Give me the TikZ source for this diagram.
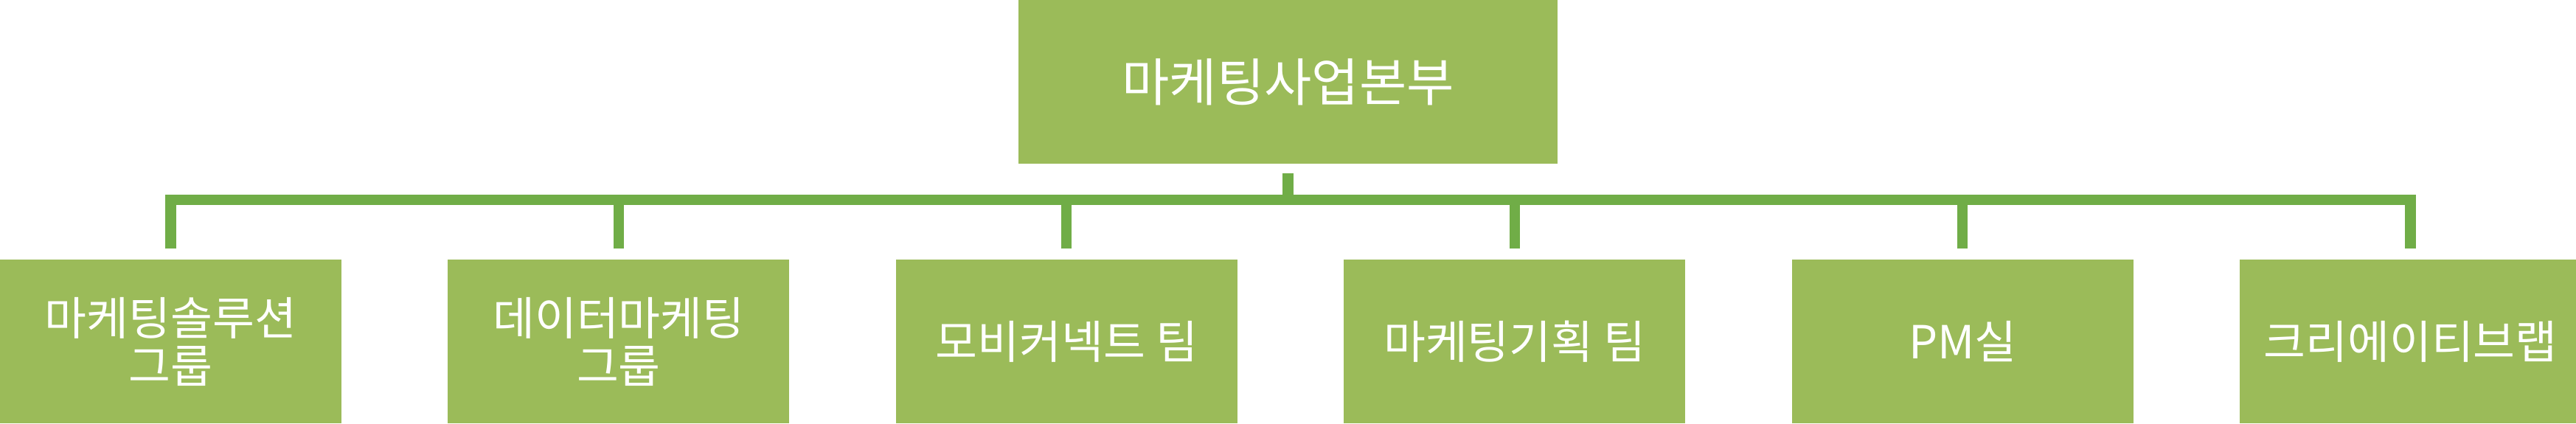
\documentclass[tikz,border=0pt]{standalone}
\usepackage{fontspec}
\setmainfont{Noto Sans CJK KR}
\usetikzlibrary{positioning}
\definecolor{boxgreen}{HTML}{9BBB59}
\definecolor{linegreen}{HTML}{70AD47}
\begin{document}
\begin{tikzpicture}[node distance=14.3mm]
                \tikzstyle{every node}= [fill=boxgreen, text=white, inner sep=0pt, align=center]
                \tikzstyle{head}= [minimum width=73.1mm, minimum height=22.2mm, font=\fontsize{19.9pt}{23pt}\selectfont]
                \tikzstyle{unit}= [minimum width=46.3mm, minimum height=22.2mm, font=\fontsize{17.6pt}{18.5pt}\selectfont]
                \tikzstyle{conn}= [draw=linegreen, line width=1.43mm, line cap=butt, line join=miter]
                \useasboundingbox (0,0) rectangle (34.93,-5.74);
                \node (0) [head] at (17.465,-1.11) {마케팅사업본부};
                \node (1) [unit] at (2.315,-4.63) {마케팅솔루션\\그룹};
                \node (2) [unit, right=of 1] {데이터마케팅\\그룹};
                \node (3) [unit, right=of 2] {모비커넥트 팀};
                \node (4) [unit, right=of 3] {마케팅기획 팀};
                \node (5) [unit, right=of 4] {PM실};
                \node (6) [unit, right=of 5] {크리에이티브랩};
                \coordinate (bus) at ([yshift=-4.85mm]0.south);

                \draw [conn] ([yshift=-1.2mm]0.south) -- (bus);
                \draw [conn] ([yshift=1.4mm]1.north) |- (bus) -| ([yshift=1.4mm]6.north);
                \draw [conn] ([yshift=1.4mm]2.north) -- (2.north |- bus);
                \draw [conn] ([yshift=1.4mm]3.north) -- (3.north |- bus);
                \draw [conn] ([yshift=1.4mm]4.north) -- (4.north |- bus);
                \draw [conn] ([yshift=1.4mm]5.north) -- (5.north |- bus);
\end{tikzpicture}
\end{document}
